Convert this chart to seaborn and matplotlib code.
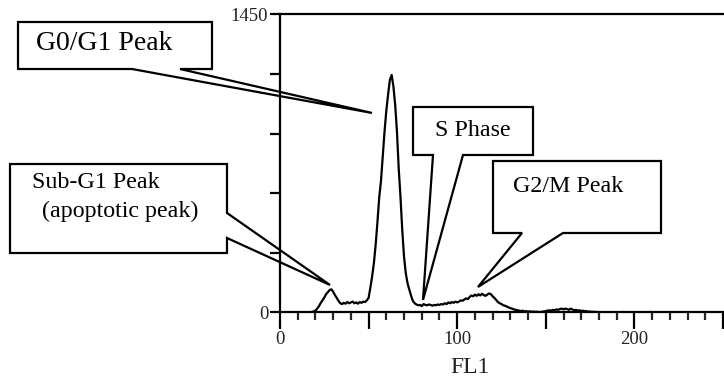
import numpy as np
import pandas as pd
import matplotlib
matplotlib.use("Agg")
import matplotlib.pyplot as plt
import seaborn as sns

# DNA content histogram (FL1 channel -> event count)
channel = list(range(0, 256))
counts = (
    [0] * 18
    + [2, 4, 8, 18, 30, 46, 58, 72, 88, 98, 108, 112, 100, 84, 70, 56, 44, 40,   # 18-35
       46, 42, 50, 44, 48, 52, 44, 48, 42, 50, 46, 52, 50, 58,                   # 36-49
       70, 120, 175, 240, 330, 440, 560, 640, 760, 880, 980, 1060, 1130, 1155,   # 50-63
       1100, 1010, 880, 700, 560, 400, 270, 190, 140, 110, 80, 55,               # 64-75
       44, 38, 34, 36, 30, 40, 36, 34, 38, 36, 32, 36, 34, 38, 36, 40, 38, 44,  # 76-93
       40, 48, 44, 50, 46, 52, 48, 52, 58, 56, 62, 68, 64, 74, 82, 78, 86, 80,  # 94-111
       88, 82, 90, 84, 80, 86, 92, 88, 78, 70, 60, 50, 44, 40, 34, 32, 28, 24,  # 112-129
       20, 18, 14, 12, 10, 8, 6, 8, 4, 6, 3, 5, 2, 4, 2, 3, 1, 2, 3, 4,         # 130-149
       6, 8, 10, 8, 12, 10, 14, 12, 16, 18, 14, 18, 16, 12, 18, 14, 10, 12,     # 150-167
       8, 10, 6, 8, 5, 6, 3, 4, 2, 3, 1, 2,                                     # 168-179
       0, 0, 0, 0, 0, 0, 0, 0, 0, 0, 0, 0, 0, 0, 2, 0, 0, 0, 0, 0,               # 180-199
       0, 0, 0, 0, 0, 0, 0, 0, 0, 2, 0, 0]                                      # 200-211
)
counts = counts + [0] * (len(channel) - len(counts))

# axis ticks
y_ticks = [0, 290, 580, 870, 1160, 1450]
y_ticklabels = ["0", "", "", "", "", "1450"]
x_ticks = [0, 50, 100, 150, 200, 250]
x_ticklabels = ["0", "", "100", "", "200", ""]

# callout labels and the (channel, count) point each one points at
callout_text = ["G0/G1 Peak", "Sub-G1 Peak", "S Phase", "G2/M Peak"]
callout_tip_x = [51.9, 28.2, 80.7, 111.7]
callout_tip_y = [970, 133, 60, 123]

df = pd.DataFrame({"FL1": channel, "count": counts})

sns.set_theme(style="white")
plt.rcParams["font.family"] = ["Liberation Serif", "DejaVu Serif"]

W, H = 724, 381
fig = plt.figure(figsize=(W / 100, H / 100), dpi=100)
ax = fig.add_axes([280 / W, 1 - 312.3 / H, 453.6 / W, 298 / H])

sns.lineplot(data=df, x="FL1", y="count", ax=ax, color="black", lw=1.6)

ax.set_xlim(0, 256)
ax.set_ylim(0, 1450)
for side in ["left", "bottom", "top", "right"]:
    ax.spines[side].set_visible(True)
    ax.spines[side].set_color("black")
    ax.spines[side].set_linewidth(1.6)

ax.set_xticks(x_ticks)
ax.set_xticklabels(x_ticklabels)
ax.set_xticks(list(range(0, 256, 10)), minor=True)
ax.set_yticks(y_ticks)
ax.set_yticklabels(y_ticklabels)
ax.tick_params(axis="x", which="major", direction="out", length=12, width=1.6,
               pad=1.5, labelsize=13.5, colors="black", labelcolor="#222222",
               bottom=True)
ax.tick_params(axis="x", which="minor", direction="out", length=6, width=1.6,
               bottom=True)
ax.tick_params(axis="y", which="major", direction="out", length=7, width=1.6,
               pad=1.5, labelsize=13.5, colors="black", labelcolor="#222222",
               left=True)
ax.set_xlabel("FL1", fontsize=17, color="#222222")
ax.xaxis.set_label_coords((470 - 280) / 453.6, -0.15)
ax.set_ylabel("")

# overlay in pixel coordinates for the callout boxes
ov = fig.add_axes([0, 0, 1, 1], facecolor="none")
ov.set_xlim(0, W)
ov.set_ylim(H, 0)
ov.axis("off")


def tip_px(i):
    disp = ax.transData.transform((callout_tip_x[i], callout_tip_y[i]))
    return ov.transData.inverted().transform(disp)


def callout(i, box, base, side, lines, fontsize):
    x0, y0, x1, y1 = box
    tx, ty = tip_px(i)
    ov.add_patch(plt.Rectangle((x0, y0), x1 - x0, y1 - y0, facecolor="white",
                               edgecolor="none", zorder=3))
    if side == "bottom":
        a, b = base
        xs = [x0, x0, x1, x1, b, tx, a, x0]
        ys = [y1, y0, y0, y1, y1, ty, y1, y1]
    else:  # pointer leaves the right edge
        a, b = base
        xs = [x1, x1, x0, x0, x1, x1, tx, x1]
        ys = [a, y0, y0, y1, y1, b, ty, a]
    ov.plot(xs, ys, color="black", lw=1.6, zorder=4, solid_joinstyle="miter")
    for (lx, ly, s) in lines:
        ov.text(lx, ly, s, fontsize=fontsize, color="black", ha="left",
                va="center", zorder=5)


callout(0, (18, 22, 212, 69), (132, 180), "bottom",
        [(36, 44, callout_text[0])], 20)
callout(1, (10, 164, 227, 253), (213, 238), "right",
        [(32, 182, callout_text[1]), (42, 211, "(apoptotic peak)")], 17.3)
callout(2, (413, 107, 533, 155), (433, 463), "bottom",
        [(435, 131, callout_text[2])], 17.3)
callout(3, (493, 161, 661, 233), (522, 563), "bottom",
        [(513, 186, callout_text[3])], 17.3)

fig.savefig("out.png", dpi=100)
